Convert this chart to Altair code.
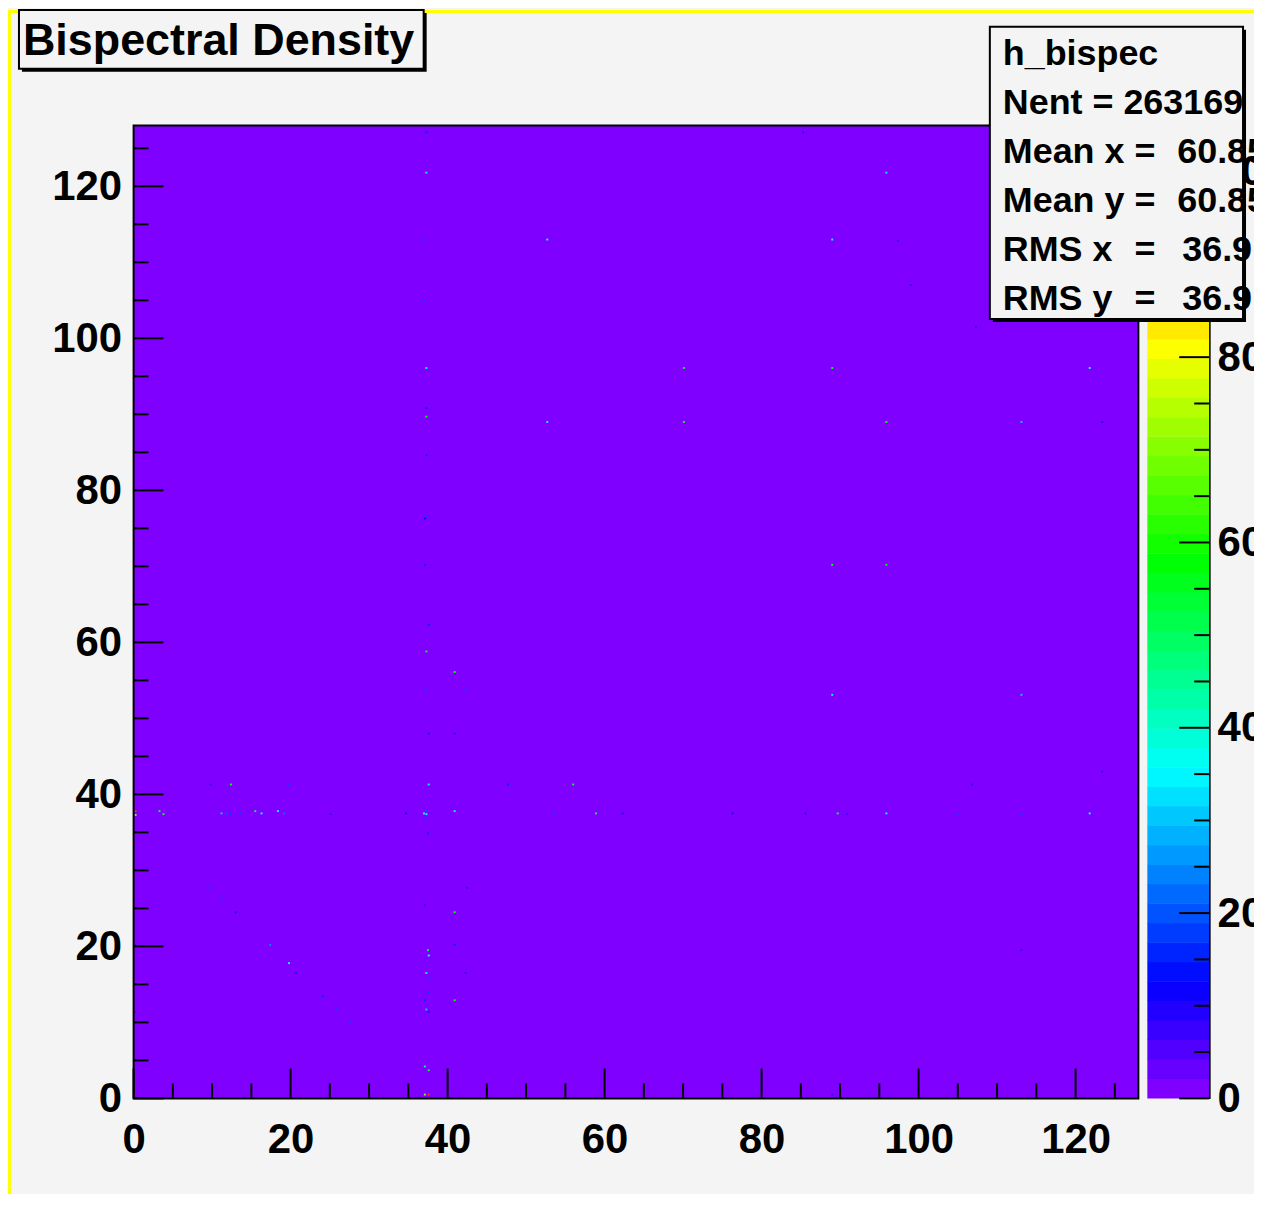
import colorsys
import altair as alt
import pandas as pd

# ---------------- data ----------------
x_range = [0, 128]
y_range = [0, 128]
z_range = [0, 105]
n_palette = 50
bin_width = 0.25
floor_content = [1.0]

# bright bins: centre x, centre y, content
dot_x = [37.3, 37.3, 37.1, 37.1, 37.3, 37.3, 37.3, 37.3, 37.3, 37.1, 37.1, 37.6, 37.3, 40.9, 37.3, 42.3, 37.6, 40.9,
         12.4, 19.8, 37.6, 47.7, 9.8, 56.0, 106.8,
         0.25, 0.25, 3.3, 3.8, 11.2, 11.8, 12.4, 13.6, 15.5, 16.3, 18.4, 19.2, 25.1, 34.7,
         37.0, 37.3, 37.3, 37.3, 37.5, 40.9, 53.6, 58.9, 62.3, 76.3, 85.6, 89.7, 90.9, 95.9, 104.9, 113.1, 121.8, 123.4,
         9.8, 11.2, 13.0, 0.13, 17.4, 19.8, 20.7, 24.1, 25.8, 27.6, 0.13,
         37.1, 40.9, 40.9, 37.5, 37.6, 37.3, 37.6, 37.6, 37.1, 40.9, 37.3, 37.6, 42.3, 42.5,
         37.1, 37.6, 37.1, 37.6, 89.0, 113.1,
         52.7, 89.0, 95.9, 85.3, 97.4, 99.0, 107.3,
         70.1, 89.0, 121.8, 52.7, 70.1, 95.9, 113.1, 123.4,
         89.0, 95.9, 89.0, 113.1]
dot_y = [127.1, 121.8, 113.0, 105.0, 96.1, 90.8, 89.7, 84.6, 76.5, 76.3, 70.2, 62.3, 58.8, 56.1, 53.6, 53.6, 48.0, 48.0,
         41.3, 41.3, 41.3, 41.3, 41.3, 41.3, 41.3,
         37.8, 37.3, 37.8, 37.4, 37.5, 37.5, 37.4, 37.5, 37.8, 37.5, 37.8, 37.5, 37.4, 37.5,
         37.5, 37.8, 37.4, 36.9, 34.9, 37.8, 37.5, 37.5, 37.5, 37.5, 37.5, 37.5, 37.4, 37.5, 37.4, 37.4, 37.5, 43.0,
         27.7, 26.2, 24.5, 20.2, 20.2, 17.8, 16.5, 13.4, 11.7, 10.1, 11.4,
         25.4, 24.5, 20.2, 19.5, 18.8, 16.5, 15.9, 13.9, 12.9, 12.9, 11.7, 11.4, 16.5, 27.7,
         4.2, 3.7, 0.5, 0.5, 0.5, 19.5,
         113.0, 113.0, 121.8, 127.1, 112.8, 107.0, 101.5,
         96.1, 96.1, 96.1, 89.0, 89.0, 89.0, 89.0, 89.0,
         70.2, 70.2, 53.1, 53.1]
dot_z = [15, 36, 18, 18, 36, 10, 55, 15, 18, 12, 15, 15, 55, 55, 18, 18, 10, 8,
         55, 18, 36, 15, 8, 55, 8,
         100, 70, 55, 55, 30, 20, 18, 18, 55, 36, 36, 22, 8, 12,
         36, 20, 36, 18, 15, 36, 18, 55, 10, 12, 10, 55, 8, 36, 18, 18, 36, 8,
         18, 18, 10, 15, 25, 36, 8, 15, 18, 18, 8,
         8, 55, 15, 55, 36, 36, 18, 18, 15, 55, 30, 15, 8, 8,
         45, 55, 70, 100, 10, 8,
         36, 36, 36, 10, 8, 8, 8,
         55, 55, 36, 36, 55, 55, 30, 10,
         55, 55, 36, 30]

axis_labels = [0, 20, 40, 60, 80, 100, 120]
axis_minor = [5, 10, 15, 25, 30, 35, 45, 50, 55, 65, 70, 75, 85, 90, 95, 105, 110, 115, 125]
z_labels = [0, 20, 40, 60, 80, 100]
z_minor = [5, 10, 15, 25, 30, 35, 45, 50, 55, 65, 70, 75, 85, 90, 95]

title_text = "Bispectral Density"
stat_names = ["h_bispec", "Nent = 263169", "Mean x =", "Mean y =", "RMS x", "RMS y"]
stat_eq = ["", "", "", "", "=", "="]
stat_values = ["", "", "60.85", "60.85", "36.9", "36.9"]

# ---------------- style / layout ----------------
FONT = "Liberation Sans"
W, H = 1008, 976
BG = "#f4f4f4"
CB_X0, CB_X1 = 1017, 1079
PAD = {"left": 126, "top": 116, "right": 116, "bottom": 94}

# ROOT "pretty" palette (violet -> red, HLS with L=0.5, S=1)
palette = []
max_hue = 275.6
for i in range(n_palette):
    hue = max_hue - (i + 1) * max_hue / n_palette
    r, g, b = colorsys.hls_to_rgb(hue / 360.0, 0.5, 1.0)
    palette.append("#%02x%02x%02x" % (round(r * 255), round(g * 255), round(b * 255)))

cscale = alt.Scale(type="quantize", domain=z_range, range=palette, nice=False)
xs = alt.Scale(domain=x_range, nice=False, zero=False)
ys = alt.Scale(domain=y_range, nice=False, zero=False)
zs = alt.Scale(domain=z_range, nice=False, zero=False)

lab = dict(labelFont=FONT, labelFontWeight="bold", labelFontSize=42, labelColor="black",
           labelFlush=False, labelOverlap=False, grid=False, ticks=False, tickSize=0, title=None)
xaxis = alt.Axis(values=axis_labels, domain=False, labelPadding=21, **lab)
yaxis = alt.Axis(values=axis_labels, domain=False, labelPadding=12, **lab)
zaxis = alt.Axis(values=z_labels, orient="right", offset=CB_X1 - W, domain=True, domainColor="black",
                 domainWidth=2, labelPadding=8, **lab)

# ---------------- histogram panel ----------------
floor_df = pd.DataFrame({"x0": [x_range[0]], "x1": [x_range[1]], "y0": [y_range[0]],
                         "y1": [y_range[1]], "z": floor_content})
floor = alt.Chart(floor_df).mark_rect().encode(
    x=alt.X("x0:Q", scale=xs, axis=xaxis), x2="x1:Q",
    y=alt.Y("y0:Q", scale=ys, axis=yaxis), y2="y1:Q",
    color=alt.Color("z:Q", scale=cscale, legend=None))

dots_df = pd.DataFrame({"x": dot_x, "y": dot_y, "z": dot_z})
half = bin_width / 2
dots = alt.Chart(dots_df).transform_calculate(
    x0=f"datum.x - {half}", x1=f"datum.x + {half}",
    y0=f"datum.y - {half}", y1=f"datum.y + {half}"
).mark_rect().encode(
    x=alt.X("x0:Q", scale=xs, axis=xaxis), x2="x1:Q",
    y=alt.Y("y0:Q", scale=ys, axis=yaxis), y2="y1:Q",
    color=alt.Color("z:Q", scale=cscale, legend=None))

frame = alt.Chart(floor_df).mark_rect(fillOpacity=0, stroke="black", strokeWidth=2).encode(
    x=alt.X("x0:Q", scale=xs, axis=xaxis), x2="x1:Q",
    y=alt.Y("y0:Q", scale=ys, axis=yaxis), y2="y1:Q")

maj_df = pd.DataFrame({"v": axis_labels})
min_df = pd.DataFrame({"v": axis_minor})
rule_style = dict(color="black", strokeWidth=2)
xt_major = alt.Chart(maj_df).mark_rule(**rule_style).encode(
    x=alt.X("v:Q", scale=xs, axis=xaxis), y=alt.value(H), y2=alt.value(H - 30))
xt_minor = alt.Chart(min_df).mark_rule(**rule_style).encode(
    x=alt.X("v:Q", scale=xs, axis=xaxis), y=alt.value(H), y2=alt.value(H - 15))
yt_major = alt.Chart(maj_df).mark_rule(**rule_style).encode(
    y=alt.Y("v:Q", scale=ys, axis=yaxis), x=alt.value(0), x2=alt.value(30))
yt_minor = alt.Chart(min_df).mark_rule(**rule_style).encode(
    y=alt.Y("v:Q", scale=ys, axis=yaxis), x=alt.value(0), x2=alt.value(15))

heat = alt.layer(floor, dots, xt_major, xt_minor, yt_major, yt_minor, frame)

# ---------------- colour bar ----------------
step = (z_range[1] - z_range[0]) / n_palette
band_df = pd.DataFrame({"i": list(range(n_palette))})
bands = alt.Chart(band_df).transform_calculate(
    lo=f"{z_range[0]} + datum.i * {step}",
    hi=f"{z_range[0]} + (datum.i + 1) * {step} + 0.05",
    mid=f"{z_range[0]} + (datum.i + 0.5) * {step}"
).mark_rect().encode(
    x=alt.value(CB_X0), x2=alt.value(CB_X1),
    y=alt.Y("lo:Q", scale=zs, axis=zaxis), y2="hi:Q",
    color=alt.Color("mid:Q", scale=cscale, legend=None))
zmaj_df = pd.DataFrame({"v": z_labels})
zmin_df = pd.DataFrame({"v": z_minor})
zt_major = alt.Chart(zmaj_df).mark_rule(**rule_style).encode(
    y=alt.Y("v:Q", scale=zs, axis=zaxis), x=alt.value(CB_X1 - 30), x2=alt.value(CB_X1))
zt_minor = alt.Chart(zmin_df).mark_rule(**rule_style).encode(
    y=alt.Y("v:Q", scale=zs, axis=zaxis), x=alt.value(CB_X1 - 15), x2=alt.value(CB_X1))
cbar = alt.layer(bands, zt_major, zt_minor)

# ---------------- decorations (title pave, stats box, canvas border) ----------------
one = pd.DataFrame({"k": [0]})


def pave(x0, y0, x1, y1):
    shadow = alt.Chart(one).mark_rect(color="black").encode(
        x=alt.value(x0 + 3), x2=alt.value(x1 + 3), y=alt.value(y0 + 3), y2=alt.value(y1 + 3))
    box = alt.Chart(one).mark_rect(fill=BG, stroke="black", strokeWidth=2).encode(
        x=alt.value(x0), x2=alt.value(x1), y=alt.value(y0), y2=alt.value(y1))
    return [shadow, box]


title_layers = pave(-115, -116, 291, -57)
title_txt = alt.Chart(one).mark_text(
    text=title_text, align="left", baseline="alphabetic", font=FONT, fontWeight="bold",
    fontSize=45, color="black").encode(x=alt.value(-111), y=alt.value(-71))

stats_layers = pave(859, -99, 1113, 194)
stats_df = pd.DataFrame({"row": list(range(len(stat_names))), "name": stat_names,
                         "eq": stat_eq, "val": stat_values})
txt_style = dict(align="left", baseline="middle", font=FONT, fontWeight="bold", fontSize=36, color="black")
stats_base = alt.Chart(stats_df).transform_calculate(
    py="-72 + datum.row * 49.2",
    vx="datum.eq == '=' ? 1052 : 1047")
s_names = stats_base.mark_text(**txt_style).encode(
    x=alt.value(872), y=alt.Y("py:Q", scale=None, axis=None), text="name:N")
s_eq = stats_base.mark_text(**txt_style).encode(
    x=alt.value(1004), y=alt.Y("py:Q", scale=None, axis=None), text="eq:N")
s_val = stats_base.mark_text(**txt_style).encode(
    x=alt.X("vx:Q", scale=None, axis=None), y=alt.Y("py:Q", scale=None, axis=None), text="val:N")

yellow_left = alt.Chart(one).mark_rect(color="#ffff00").encode(
    x=alt.value(-126), x2=alt.value(-123), y=alt.value(-116), y2=alt.value(H + 100))
yellow_top = alt.Chart(one).mark_rect(color="#ffff00").encode(
    x=alt.value(-126), x2=alt.value(W + 120), y=alt.value(-116), y2=alt.value(-113))

deco = alt.layer(yellow_left, yellow_top, *title_layers, title_txt,
                 *stats_layers, s_names, s_eq, s_val)

chart = alt.layer(heat, cbar, deco).resolve_scale(y="independent").properties(
    width=W, height=H,
    padding=PAD,
    autosize=alt.AutoSizeParams(type="none"),
    background=BG,
).configure_view(stroke=None)

chart.save("out.html", embed_options={"renderer": "svg", "actions": False})
